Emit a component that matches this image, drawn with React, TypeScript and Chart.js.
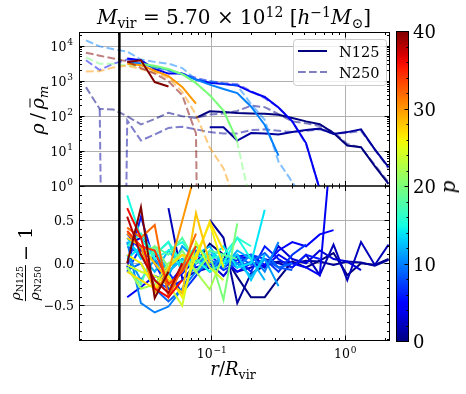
import React, { useEffect, useRef } from "react";
import { Chart, registerables } from "chart.js";
Chart.register(...registerables);

const _ = null;

// radial bin centres, r / R_vir
const R_BINS = [0.0114, 0.01446, 0.01833, 0.02324, 0.02946, 0.03736, 0.04737, 0.06007, 0.07616, 0.09658, 0.1225, 0.1553, 0.1969, 0.2496, 0.3165, 0.4013, 0.5089, 0.6453, 0.8182, 1.0373, 1.3152, 1.6677, 2.1145];
// black vertical reference radius
const R_REF = 0.0203;

const X_MIN = 0.0102, X_MAX = 2.15;
const YT_MIN = 1, YT_MAX = 25000;
const YB_MIN = -0.91, YB_MAX = 0.91;
const P_MAX = 40;

// top panel: rho / rho_m  (N125 solid, N250 dashed), indexed by radial bin
const N125_P0 = [_, _, _, _, _, _, _, _, 89, 138, 132, 123, 120, 117, 110, 89, 71, 59, 33, 14.5, 12.9, 3.7, 1.15];
const N250_P0 = [680, 162, 155, 100, 58, 83, 126, 100, 89, 112, 120, 141, 200, 182, 115, 71, 63, 52, 35, 16, 12.6, 4, 1.26];
const N125_P1 = [_, _, _, _, _, _, _, _, _, 48, 48, 20, 33, 32, 30, 35, 40, 44, 31, 35, 42, 11.2, 3.5];
const N250_P1 = [_, 162, 0, 76, 20, 30, 46, 50, 42, 35, 32, 32, 40, 42, 38, 35, 38, 42, 32, 33, 38, 11.2, 3.2];
const N125_P4 = [_, _, _, 4500, 4000, 2240, 1660, 1660, 1120, 910, 830, 760, 500, 355, 178, 71, 17, 0.8, 0.32];
const N250_P4 = [4000, 2100, 3200, 4200, 3300, 2500, 2000, 1660, 1260, 1000, 890, 830, 525, 330, 178, 71, 16, 0.8, 0.11];
const N125_P10 = [_, _, _, 3500, 3200, 2600, 2100, 1600, 1120, 800, 600, 460, 190, 56, 7.4];
const N250_P10 = [14800, 10000, 8300, 7100, 4200, 3600, 3200, 2400, 1120, 1000, 850, 760, 224, 79, 5, 1.3, 0.32];
const N125_P20 = [_, _, _, _, 3200, 2800, 2240, 1600, 890, 400, 145, 20];
const N250_P20 = [4800, 3200, 3200, 2800, 2800, 2500, 2140, 1600, 890, 400, 145, 18, 0.28];
const N125_P30 = [_, _, _, 3200, 2900, 2000, 1400, 690, 230];
const N250_P30 = [1900, 1950, 2500, 2800, 2240, 1780, 1260, 500, 110, 12.6, 3.2, 0.25];
const N125_P40 = [_, _, _, 3550, 4000, 950, 710];
const N250_P40 = [6600, 5400, 4500, 3700, 2400, 1660, 1000, 400, 32, 0];

const TOP_SERIES: [number, (number | null)[], (number | null)[]][] = [
  [0, N125_P0, N250_P0],
  [1, N125_P1, N250_P1],
  [4, N125_P4, N250_P4],
  [10, N125_P10, N250_P10],
  [20, N125_P20, N250_P20],
  [30, N125_P30, N250_P30],
  [40, N125_P40, N250_P40],
];

// bottom panel: rho_N125 / rho_N250 - 1, indexed by radial bin
const RATIO_P0 = [_, _, _, _, _, _, _, _, 0.0, 0.23, 0.1, -0.16, -0.4, -0.4, -0.18, 0.02, -0.05, 0.03, 0.12, -0.14, 0.0, -0.02, 0.05];
const RATIO_P1 = [_, _, _, _, _, _, _, _, _, 0.51, 0.3, -0.47, -0.12, -0.03, 0.02, 0.0, 0.03, 0.02, -0.02, 0.02, 0.01, -0.03, 0.04];
const RATIO_P2 = [_, _, _, _, _, _, 0.65, -0.18, -0.1, -0.05, 0.05, -0.1, -0.05, 0.05, 0.0, -0.05, 0.1, -0.14, 0.22, -0.2, 0.25, -0.02, 0.22];
const RATIO_P3 = [_, _, _, 0.22, 0.3, 0.1, -0.1, 0.05, -0.05, 0.0, -0.15, 0.05, 0.08, -0.05, 0.2, 0.05, 0.0, 0.15, 0.05, 0.02, -0.08];
const RATIO_P4 = [_, _, _, -0.4, -0.28, -0.15, -0.22, -0.12, 0.05, -0.05, 0.02, -0.1, 0.0, -0.05, 0.1, 0.0, -0.05, -0.14, 1.7];
const RATIO_P5 = [_, _, _, 0.35, 0.15, 0.02, -0.25, -0.05, 0.1, 0.0, -0.05, 0.08, 0.1, -0.02, 0.15, 0.25, 0.2, 0.34, 0.39];
const RATIO_P6 = [_, _, _, -0.05, 0.55, 0.0, -0.3, -0.2, 0.0, 0.1, -0.05, 0.05, -0.1, 0.2, 0.05, -0.05, 0.1, 0.05];
const RATIO_P7 = [_, _, _, -0.1, 0.2, 0.15, -0.1, -0.35, -0.15, 0.05, -0.08, 0.0, 0.1, 0.05, -0.1, 0.1, 0.22];
const RATIO_P8 = [_, _, _, 0.2, 0.1, -0.2, -0.3, -0.1, 0.15, -0.05, 0.0, 0.1, -0.02, 0.05, -0.05, -0.08];
const RATIO_P9 = [_, _, _, -0.08, 0.0, -0.3, -0.45, -0.3, 0.0, 0.1, 0.05, -0.05, 0.02, 0.12, -0.05, 0.0];
const RATIO_P10 = [_, _, _, 0.25, -0.47, -0.58, -0.51, -0.3, -0.1, 0.0, 0.05, -0.05, 0.1, -0.1, 0.25];
const RATIO_P11 = [_, _, _, 0.1, -0.2, 0.05, -0.15, 0.2, 0.05, -0.1, 0.1, 0.0, -0.15, 0.05, -0.27];
const RATIO_P12 = [_, _, _, 0.25, 0.1, -0.1, 0.15, -0.05, 0.1, 0.2, -0.05, 0.15, 0.05, -0.2];
const RATIO_P13 = [_, _, _, 0.3, 0.05, 0.15, -0.1, 0.05, -0.1, 0.15, 0.0, 0.1, -0.2, 0.1];
const RATIO_P14 = [_, _, _, 0.05, 0.2, 0.1, 0.25, -0.1, 0.1, 0.05, 0.2, -0.05, 0.0, 0.63];
const RATIO_P15 = [_, _, _, 0.8, 0.3, 0.05, 0.15, 0.25, 0.05, -0.1, 0.0, 0.3, 0.05];
const RATIO_P16 = [_, _, _, 0.2, 0.35, 0.1, 0.25, 0.0, 0.2, 0.05, 0.1, 0.3, 0.2];
const RATIO_P18 = [_, _, _, -0.05, -0.25, 0.2, 0.1, 0.3, 0.0, 0.15, 0.1, 0.05];
const RATIO_P20 = [_, _, _, _, 0.1, 0.2, -0.05, 0.15, -0.1, 0.1, -0.43, 0.47];
const RATIO_P22 = [_, _, _, -0.05, -0.3, -0.25, 0.0, 0.1, -0.1, -0.31, 0.1];
const RATIO_P24 = [_, _, _, -0.02, -0.1, -0.15, -0.25, -0.5, 0.25, -0.05, -0.2];
const RATIO_P26 = [_, _, _, 0.1, 0.0, -0.3, -0.15, -0.4, 0.1, 0.47, -0.05];
const RATIO_P27 = [_, _, _, -0.1, -0.2, -0.3, -0.05, 0.1, 0.05, 0.49, 0.15];
const RATIO_P28 = [_, _, _, 0.3, 0.2, 0.0, -0.2, -0.35, 0.59, 0.0];
const RATIO_P30 = [_, _, _, 0.35, 0.2, -0.35, -0.1, 0.5, 1.1];
const RATIO_P32 = [_, _, _, 0.42, 0.3, 0.45, -0.4, -0.05, 0.35];
const RATIO_P34 = [_, _, _, 0.38, 0.2, 0.15, -0.25, -0.1, 0.2];
const RATIO_P36 = [_, _, _, 0.65, 0.3, -0.3, -0.4, -0.2];
const RATIO_P38 = [_, _, _, 0.55, 0.1, -0.2, -0.35, 0.0];
const RATIO_P40 = [_, _, _, 0.0, 0.66, -0.41, -0.1];

const RATIO_SERIES: [number, (number | null)[]][] = [
  [0, RATIO_P0], [1, RATIO_P1], [2, RATIO_P2], [3, RATIO_P3], [4, RATIO_P4], [5, RATIO_P5],
  [6, RATIO_P6], [7, RATIO_P7], [8, RATIO_P8], [9, RATIO_P9], [10, RATIO_P10], [11, RATIO_P11],
  [12, RATIO_P12], [13, RATIO_P13], [14, RATIO_P14], [15, RATIO_P15], [16, RATIO_P16], [18, RATIO_P18],
  [20, RATIO_P20], [22, RATIO_P22], [24, RATIO_P24], [26, RATIO_P26], [27, RATIO_P27], [28, RATIO_P28],
  [30, RATIO_P30], [32, RATIO_P32], [34, RATIO_P34], [36, RATIO_P36], [38, RATIO_P38], [40, RATIO_P40],
];

const Y_TOP_TICKS = [1, 10, 100, 1000, 10000];
const Y_TOP_EXP = ["0", "1", "2", "3", "4"];
const Y_BOT_TICKS = [-0.5, 0, 0.5];
const Y_BOT_LABELS = ["\u22120.5", "0.0", "0.5"];
const X_TICKS = [0.1, 1];
const X_EXP = ["\u22121", "0"];
const CB_TICKS = [0, 10, 20, 30, 40];

// ---------- style ----------
const W = 466, H = 394;
const LEFT = 79.5, RIGHT = 389.5, TOP = 32.5, MID = 186, BOTTOM = 340.5;
const CB = { x0: 396.5, x1: 408.5, y0: 31.5, y1: 341.5 };
const FONT = '"DejaVu Serif", serif';

const JET_R = [[0, 0], [0.35, 0], [0.66, 1], [0.89, 1], [1, 0.5]];
const JET_G = [[0, 0], [0.125, 0], [0.375, 1], [0.64, 1], [0.91, 0], [1, 0]];
const JET_B = [[0, 0.5], [0.11, 1], [0.34, 1], [0.65, 0], [1, 0]];
function seg(pts: number[][], t: number) {
  for (let i = 1; i < pts.length; i++) {
    if (t <= pts[i][0]) {
      const [x0, y0] = pts[i - 1];
      const [x1, y1] = pts[i];
      return y0 + ((y1 - y0) * (t - x0)) / (x1 - x0);
    }
  }
  return pts[pts.length - 1][1];
}
function jet(t: number, a = 1) {
  const r = Math.round(seg(JET_R, t) * 255);
  const g = Math.round(seg(JET_G, t) * 255);
  const b = Math.round(seg(JET_B, t) * 255);
  return `rgba(${r},${g},${b},${a})`;
}

function toPoints(arr: (number | null)[], logy: boolean) {
  const out: { x: number; y: number }[] = [];
  arr.forEach((v, i) => {
    if (v === null || v === undefined) return;
    out.push({ x: R_BINS[i], y: logy && v <= 0 ? 1e-30 : v });
  });
  return out;
}

function xMinor() {
  const out: number[] = [];
  for (const d of [0.001, 0.01, 0.1, 1]) for (let m = 2; m <= 9; m++) {
    const v = m * d;
    if (v > X_MIN && v < X_MAX) out.push(v);
  }
  return out;
}
function yTopMinor() {
  const out: number[] = [];
  for (const d of [1, 10, 100, 1000, 10000]) for (let m = 2; m <= 9; m++) {
    const v = m * d;
    if (v > YT_MIN && v < YT_MAX) out.push(v);
  }
  return out;
}
function yBotMinor() {
  const out: number[] = [];
  for (let i = -9; i <= 9; i++) if (i % 5 !== 0) out.push(i / 10);
  return out;
}

function drawPow(ctx: CanvasRenderingContext2D, base: string, exp: string, x: number, y: number, align: "right" | "center") {
  ctx.font = `12.5px ${FONT}`;
  const wb = ctx.measureText(base).width;
  ctx.font = `9px ${FONT}`;
  const we = ctx.measureText(exp).width;
  const total = wb + 0.8 + we;
  const x0 = align === "right" ? x - total : x - total / 2;
  ctx.textAlign = "left";
  ctx.textBaseline = "alphabetic";
  ctx.fillStyle = "#000";
  ctx.font = `12.5px ${FONT}`;
  ctx.fillText(base, x0, y);
  ctx.font = `9px ${FONT}`;
  ctx.fillText(exp, x0 + wb + 0.8, y - 5.5);
}

function crisp(v: number) {
  return Math.round(v - 0.5) + 0.5;
}

function drawGrid(chart: any, yTicks: number[]) {
  const ctx = chart.ctx as CanvasRenderingContext2D;
  const { left, right, top, bottom } = chart.chartArea;
  const xs = chart.scales.x, ys = chart.scales.y;
  ctx.save();
  ctx.strokeStyle = "#b0b0b0";
  ctx.lineWidth = 1;
  ctx.beginPath();
  for (const v of X_TICKS) {
    const px = crisp(xs.getPixelForValue(v));
    ctx.moveTo(px, top);
    ctx.lineTo(px, bottom);
  }
  for (const v of yTicks) {
    const py = crisp(ys.getPixelForValue(v));
    if (py <= top + 1 || py >= bottom - 1) continue;
    ctx.moveTo(left, py);
    ctx.lineTo(right, py);
  }
  ctx.stroke();
  ctx.restore();
}

function drawFrame(chart: any, yMajor: number[], yMinor: number[]) {
  const ctx = chart.ctx as CanvasRenderingContext2D;
  const { left, right, top, bottom } = chart.chartArea;
  const xs = chart.scales.x, ys = chart.scales.y;
  ctx.save();
  ctx.strokeStyle = "#000";
  ctx.lineWidth = 1;
  ctx.beginPath();
  const tick = (vals: number[], len: number) => {
    for (const v of vals) {
      const px = crisp(xs.getPixelForValue(v));
      ctx.moveTo(px, bottom);
      ctx.lineTo(px, bottom - len);
      ctx.moveTo(px, top);
      ctx.lineTo(px, top + len);
    }
  };
  const ytick = (vals: number[], len: number) => {
    for (const v of vals) {
      const py = crisp(ys.getPixelForValue(v));
      if (py < top - 0.5 || py > bottom + 0.5) continue;
      ctx.moveTo(left, py);
      ctx.lineTo(left + len, py);
      ctx.moveTo(right, py);
      ctx.lineTo(right - len, py);
    }
  };
  tick(X_TICKS, 5);
  tick(xMinor(), 2.5);
  ytick(yMajor, 5);
  ytick(yMinor, 2.5);
  ctx.stroke();
  ctx.strokeRect(left, top, right - left, bottom - top);
  ctx.restore();
}

const topPlugin = {
  id: "topAxes",
  beforeDatasetsDraw(chart: any) {
    drawGrid(chart, Y_TOP_TICKS);
  },
  afterDraw(chart: any) {
    const ctx = chart.ctx as CanvasRenderingContext2D;
    drawFrame(chart, Y_TOP_TICKS, yTopMinor());
    const ys = chart.scales.y;
    Y_TOP_TICKS.forEach((v, i) => {
      const py = ys.getPixelForValue(v);
      drawPow(ctx, "10", Y_TOP_EXP[i], 73, py + 4.5, "right");
    });
    // legend
    ctx.save();
    const bx = 293.5, by = 39.5, bw = 93, bh = 46, r = 3;
    ctx.beginPath();
    ctx.moveTo(bx + r, by);
    ctx.lineTo(bx + bw - r, by);
    ctx.arcTo(bx + bw, by, bx + bw, by + r, r);
    ctx.lineTo(bx + bw, by + bh - r);
    ctx.arcTo(bx + bw, by + bh, bx + bw - r, by + bh, r);
    ctx.lineTo(bx + r, by + bh);
    ctx.arcTo(bx, by + bh, bx, by + bh - r, r);
    ctx.lineTo(bx, by + r);
    ctx.arcTo(bx, by, bx + r, by, r);
    ctx.closePath();
    ctx.fillStyle = "rgba(255,255,255,0.8)";
    ctx.fill();
    ctx.strokeStyle = "#cccccc";
    ctx.lineWidth = 1;
    ctx.stroke();
    ctx.lineWidth = 2;
    ctx.strokeStyle = jet(0);
    ctx.beginPath();
    ctx.moveTo(298, 51);
    ctx.lineTo(327, 51);
    ctx.stroke();
    ctx.strokeStyle = jet(0, 0.5);
    ctx.setLineDash([7.7, 3.3]);
    ctx.beginPath();
    ctx.moveTo(298, 72);
    ctx.lineTo(327, 72);
    ctx.stroke();
    ctx.setLineDash([]);
    ctx.fillStyle = "#000";
    ctx.font = `14.5px ${FONT}`;
    ctx.textAlign = "left";
    ctx.textBaseline = "alphabetic";
    ctx.fillText("N125", 339, 56.5);
    ctx.fillText("N250", 339, 77.5);
    ctx.restore();
  },
};

const botPlugin = {
  id: "botAxes",
  beforeDatasetsDraw(chart: any) {
    drawGrid(chart, Y_BOT_TICKS);
  },
  afterDraw(chart: any) {
    const ctx = chart.ctx as CanvasRenderingContext2D;
    drawFrame(chart, Y_BOT_TICKS, yBotMinor());
    const ys = chart.scales.y, xs = chart.scales.x;
    ctx.save();
    ctx.fillStyle = "#000";
    ctx.font = `12.5px ${FONT}`;
    ctx.textAlign = "right";
    ctx.textBaseline = "alphabetic";
    Y_BOT_TICKS.forEach((v, i) => {
      ctx.fillText(Y_BOT_LABELS[i], 74, ys.getPixelForValue(v) + 4.5);
    });
    ctx.restore();
    X_TICKS.forEach((v, i) => {
      drawPow(ctx, "10", X_EXP[i], xs.getPixelForValue(v), 358, "center");
    });
    // colour bar
    ctx.save();
    const grad = ctx.createLinearGradient(0, CB.y0, 0, CB.y1);
    for (let i = 0; i <= 40; i++) grad.addColorStop(i / 40, jet(1 - i / 40));
    ctx.fillStyle = grad;
    ctx.fillRect(CB.x0, CB.y0, CB.x1 - CB.x0, CB.y1 - CB.y0);
    ctx.strokeStyle = "#000";
    ctx.lineWidth = 1;
    ctx.strokeRect(CB.x0, CB.y0, CB.x1 - CB.x0, CB.y1 - CB.y0);
    ctx.beginPath();
    for (let p = 0; p <= P_MAX; p += 2) {
      const py = crisp(CB.y1 - (p / P_MAX) * (CB.y1 - CB.y0));
      const len = p % 10 === 0 ? 4 : 2;
      ctx.moveTo(CB.x1, py);
      ctx.lineTo(CB.x1 - len, py);
    }
    ctx.stroke();
    ctx.fillStyle = "#000";
    ctx.font = `18px ${FONT}`;
    ctx.textAlign = "left";
    ctx.textBaseline = "alphabetic";
    for (const p of CB_TICKS) {
      const py = CB.y1 - (p / P_MAX) * (CB.y1 - CB.y0);
      ctx.fillText(String(p), 413, py + 6.5);
    }
    ctx.restore();
  },
};

function baseOptions(yScale: any, padTop: number, padBottom: number) {
  return {
    responsive: false,
    animation: false as const,
    devicePixelRatio: 1,
    layout: { padding: { left: LEFT, right: W - RIGHT, top: padTop, bottom: padBottom } },
    scales: {
      x: { type: "logarithmic", min: X_MIN, max: X_MAX, display: false },
      y: yScale,
    },
    plugins: { legend: { display: false }, tooltip: { enabled: false } },
    elements: { point: { radius: 0 }, line: { tension: 0 } },
    events: [] as any[],
  };
}

const Sub = ({ children }: { children: any }) => (
  <span style={{ fontSize: "0.7em", position: "relative", top: "0.3em" }}>{children}</span>
);
const Sup = ({ children }: { children: any }) => (
  <span style={{ fontSize: "0.7em", position: "relative", top: "-0.5em" }}>{children}</span>
);

export default function App() {
  const topRef = useRef<HTMLCanvasElement>(null);
  const botRef = useRef<HTMLCanvasElement>(null);

  useEffect(() => {
    const topSets: any[] = [];
    TOP_SERIES.forEach(([p, n125, n250]) => {
      topSets.push({
        data: toPoints(n125, true),
        borderColor: jet(p / P_MAX),
        borderWidth: 2,
        fill: false,
        clip: 0,
        order: 1000 - 2 * p,
      });
      topSets.push({
        data: toPoints(n250, true),
        borderColor: jet(p / P_MAX, 0.5),
        borderWidth: 2,
        borderDash: [7.7, 3.3],
        fill: false,
        clip: 0,
        order: 1000 - 2 * p - 1,
      });
    });
    topSets.push({
      data: [{ x: R_REF, y: 1e-3 }, { x: R_REF, y: 1e7 }],
      borderColor: "#000",
      borderWidth: 2.5,
      fill: false,
      clip: 0,
      order: 0,
    });

    const botSets: any[] = RATIO_SERIES.map(([p, arr]) => ({
      data: toPoints(arr, false),
      borderColor: jet(p / P_MAX),
      borderWidth: 2,
      fill: false,
      clip: 0,
      order: 1000 - p,
    }));
    botSets.push({
      data: [{ x: R_REF, y: -5 }, { x: R_REF, y: 5 }],
      borderColor: "#000",
      borderWidth: 2.5,
      fill: false,
      clip: 0,
      order: 0,
    });

    const c1 = new Chart(topRef.current as HTMLCanvasElement, {
      type: "line",
      data: { datasets: topSets },
      options: baseOptions({ type: "logarithmic", min: YT_MIN, max: YT_MAX, display: false }, TOP, H - MID) as any,
      plugins: [topPlugin],
    });
    const c2 = new Chart(botRef.current as HTMLCanvasElement, {
      type: "line",
      data: { datasets: botSets },
      options: baseOptions({ type: "linear", min: YB_MIN, max: YB_MAX, display: false }, MID, H - BOTTOM) as any,
      plugins: [botPlugin],
    });
    return () => {
      c1.destroy();
      c2.destroy();
    };
  }, []);

  const abs: React.CSSProperties = { position: "absolute", whiteSpace: "nowrap", lineHeight: 1 };
  return (
    <div style={{ position: "fixed", left: 0, top: 0, width: W, height: H, background: "#fff", fontFamily: FONT, color: "#000", overflow: "hidden" }}>
      <canvas ref={botRef} width={W} height={H} style={{ position: "absolute", left: 0, top: 0 }} />
      <canvas ref={topRef} width={W} height={H} style={{ position: "absolute", left: 0, top: 0 }} />
      {/* title */}
      <div style={{ ...abs, left: 234, top: 7, fontSize: 20, transform: "translateX(-50%)" }}>
        <i>M</i><Sub>vir</Sub> = 5.70 × 10<Sup>12</Sup> [<i>h</i><Sup>−1</Sup><i>M</i><Sub>⊙</Sub>]
      </div>
      {/* x label */}
      <div style={{ ...abs, left: 233, top: 360, fontSize: 18, transform: "translateX(-50%)" }}>
        <i>r</i>/<i>R</i><Sub>vir</Sub>
      </div>
      {/* top y label */}
      <div style={{ ...abs, left: 37, top: 110, fontSize: 19, transform: "translate(-50%,-50%) rotate(-90deg)" }}>
        <i>ρ</i>{"\u2009/\u2009"}
        <span style={{ position: "relative", display: "inline-block" }}>
          <i>ρ</i>
          <span style={{ position: "absolute", left: "20%", right: "0%", top: "0.12em", borderTop: "1.2px solid #000" }} />
        </span>
        <Sub><i>m</i></Sub>
      </div>
      {/* bottom y label */}
      <div style={{ ...abs, left: 25, top: 264, fontSize: 19, display: "flex", alignItems: "center", transform: "translate(-50%,-50%) rotate(-90deg)" }}>
        <span style={{ display: "inline-flex", flexDirection: "column", alignItems: "center", fontSize: 13.5 }}>
          <span style={{ padding: "0 1px 2px" }}><i>ρ</i><Sub>N125</Sub></span>
          <span style={{ alignSelf: "stretch", borderTop: "1px solid #000" }} />
          <span style={{ paddingTop: 2 }}><i>ρ</i><Sub>N250</Sub></span>
        </span>
        <span style={{ marginLeft: 4 }}>− 1</span>
      </div>
      {/* colour bar label */}
      <div style={{ ...abs, left: 448, top: 187, fontSize: 20, transform: "translate(-50%,-50%) rotate(-90deg)" }}>
        <i>p</i>
      </div>
    </div>
  );
}
